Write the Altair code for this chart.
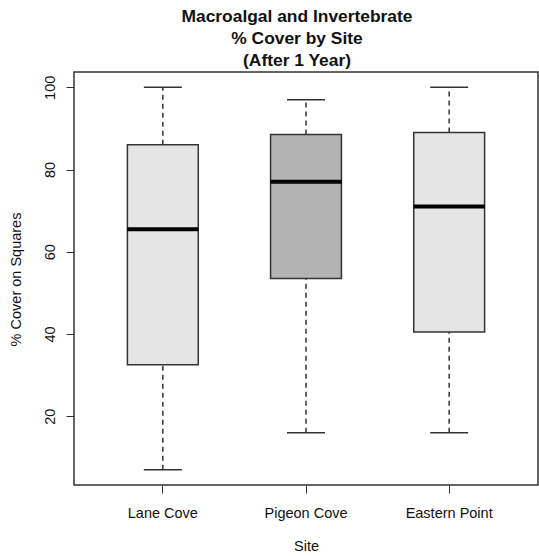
import altair as alt
import pandas as pd

sites = ["Lane Cove", "Pigeon Cove", "Eastern Point"]
mins = [7, 16, 16]
q1 = [32.5, 53.5, 40.5]
medians = [65.5, 77, 71]
q3 = [86, 88.5, 89]
maxs = [100, 97, 100]
fills = ["#e5e5e5", "#b3b3b3", "#e5e5e5"]

df = pd.DataFrame({"site": sites, "lo": mins, "q1": q1, "med": medians, "q3": q3, "hi": maxs})

FONT = "Liberation Sans"
ink = "#333333"

x = alt.X("site:N", sort=sites, title="Site",
          scale=alt.Scale(paddingInner=0.505, paddingOuter=0.373),
          axis=alt.Axis(labelAngle=0, domain=False, tickSize=8, tickColor=ink, tickWidth=1,
                        labelPadding=13, labelFontSize=14.5, labelFont=FONT, labelColor="#111",
                        titleFont=FONT, titleFontSize=14.5, titleFontWeight="normal", titleColor="#111",
                        titleX=232, titleY=61, titleBaseline="middle", titleAlign="center"))
yscale = alt.Scale(domain=[3.28, 103.72], nice=False, zero=False)
yaxis = alt.Axis(values=[20, 40, 60, 80, 100], domain=False, grid=False, tickSize=8, tickColor=ink,
                 tickWidth=1, labelAngle=270, labelAlign="center", labelBaseline="alphabetic",
                 labelPadding=12, labelFontSize=14.5, labelFont=FONT, labelColor="#111",
                 titleFont=FONT, titleFontSize=14.5, titleFontWeight="normal", titleColor="#111",
                 titleX=-58, titleY=207, titleAlign="center", titleBaseline="middle", titleAngle=270)

base = alt.Chart(df)

upper = base.mark_rule(color=ink, strokeWidth=1.5, strokeDash=[5, 4]).encode(
    x=x, y=alt.Y("q3:Q", scale=yscale, axis=yaxis, title="% Cover on Squares"), y2="hi:Q")
lower = base.mark_rule(color=ink, strokeWidth=1.5, strokeDash=[5, 4]).encode(
    x=x, y=alt.Y("lo:Q", scale=yscale), y2="q1:Q")
box = base.mark_bar(stroke=ink, strokeWidth=1.5, opacity=1).encode(
    x=x, y=alt.Y("q1:Q", scale=yscale), y2="q3:Q",
    fill=alt.Fill("site:N", scale=alt.Scale(domain=sites, range=fills), legend=None))
med = base.mark_tick(color="#000", size=71, thickness=4, opacity=1).encode(
    x=x, y=alt.Y("med:Q", scale=yscale))
caphi = base.mark_tick(color=ink, size=38, thickness=1.5, opacity=1).encode(
    x=x, y=alt.Y("hi:Q", scale=yscale))
caplo = base.mark_tick(color=ink, size=38, thickness=1.5, opacity=1).encode(
    x=x, y=alt.Y("lo:Q", scale=yscale))

chart = alt.layer(upper, lower, box, med, caphi, caplo).properties(
    width=464, height=413,
    background="white",
    padding={"left": 74, "top": 72, "right": 1, "bottom": 71},
    autosize=alt.AutoSizeParams(type="none"),
    title=alt.TitleParams(
        text=["Macroalgal and Invertebrate", "% Cover by Site", "(After 1 Year)"],
        font=FONT, fontSize=17.4, fontWeight="bold", color="#111", lineHeight=21.8,
        anchor="middle", frame="group", dx=-9, offset=3),
).configure_view(stroke="#333333", strokeWidth=1.5)

chart.save("out.html", embed_options={"renderer": "svg", "actions": False})
